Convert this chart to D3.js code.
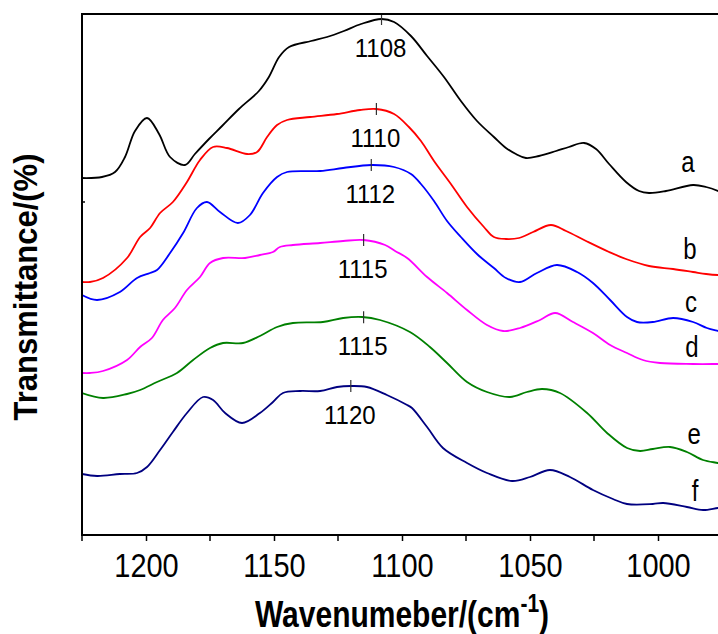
<!DOCTYPE html>
<html>
<head>
<meta charset="utf-8">
<script src="https://cdn.jsdelivr.net/npm/d3@7"></script>
<style>
  body { margin: 0; background: #fff; }
  text { font-family: "Liberation Sans", Arial, sans-serif; fill: #000; }
</style>
</head>
<body>
<svg id="chart" width="718" height="634"></svg>
<script>
// ---- data: wavenumber (cm-1) vs offset transmittance (arbitrary units) ----
const seriesNames = ["a", "b", "c", "d", "e", "f"];
const seriesColors = ["#000000", "#ff0000", "#0000ff", "#ff00ff", "#008000", "#000080"];

const curveA = [
  [1225, 35.7], [1217.2, 35.8], [1212.1, 36.3], [1208.2, 37.8], [1204.3, 40.4], [1199.6, 41.7],
  [1194.9, 40.1], [1190.6, 37.8], [1184.8, 37.0], [1180.9, 38.1], [1175.4, 39.6], [1170.3, 40.9],
  [1163.7, 42.6], [1155.9, 44.4], [1152.0, 45.8], [1148.0, 47.8], [1144.1, 48.8], [1135.5, 49.4],
  [1129.3, 49.8], [1122.7, 50.4], [1116.0, 51.1], [1108, 51.6], [1103.1, 51.3], [1096.5, 49.9],
  [1090.2, 47.9], [1083.6, 45.8], [1077.0, 43.4], [1070.7, 41.4], [1064.1, 39.8], [1059.4, 38.7],
  [1055.5, 38.1], [1051.6, 37.7], [1046.5, 37.9], [1039.8, 38.4], [1034.8, 38.8], [1028.9, 39.2],
  [1024.2, 38.6], [1019.1, 37.1], [1012.5, 35.3], [1007.4, 34.4], [1003.5, 34.2], [996.9, 34.4],
  [986.3, 35.0], [981.2, 34.8], [976.6, 34.4], [975, 34.2]
];
const curveB = [
  [1225, 25.3], [1221.9, 25.3], [1216.8, 25.7], [1207.4, 27.7], [1202.3, 29.8], [1198.4, 30.7],
  [1194.5, 32.2], [1189.5, 33.3], [1184.0, 35.3], [1178.9, 37.5], [1173.8, 38.8], [1168.4, 38.7],
  [1160.5, 38.1], [1156.6, 38.3], [1152.7, 39.8], [1148.8, 41.0], [1144.9, 41.5], [1135.9, 41.8],
  [1125.4, 42.1], [1116.4, 42.5], [1110, 42.6], [1103.1, 42.1], [1097.3, 40.8], [1092.6, 39.4],
  [1087.5, 37.4], [1080.9, 35.1], [1074.6, 32.8], [1068.0, 30.8], [1064.1, 29.8], [1059.4, 29.6],
  [1054.3, 29.7], [1048.8, 30.3], [1041.8, 31.0], [1035.9, 30.4], [1028.1, 29.4], [1019.1, 28.3],
  [1012.5, 27.6], [1003.5, 26.9], [994.1, 26.6], [986.3, 26.3], [981.2, 26.1], [976.6, 26.0], [975, 26.0]
];
const curveC = [
  [1225, 24.0], [1219.1, 23.5], [1210.2, 24.3], [1203.5, 25.7], [1198.4, 26.2], [1195.7, 26.5],
  [1190.6, 28.2], [1185.5, 30.2], [1180.1, 32.7], [1176.2, 33.3], [1171.1, 32.3], [1164.1, 31.2],
  [1159.4, 32.0], [1154.3, 34.2], [1148.8, 35.8], [1144.9, 36.3], [1132.0, 36.4], [1123.0, 36.7],
  [1112, 37.0], [1103.1, 36.8], [1096.5, 36.1], [1092.6, 35.1], [1087.5, 33.4], [1082.4, 31.4],
  [1077.0, 29.8], [1070.7, 28.1], [1064.1, 26.7], [1059.4, 25.7], [1053.9, 25.3], [1047.3, 26.2],
  [1039.5, 27.0], [1031.6, 26.3], [1025.4, 25.2], [1018.7, 23.5], [1012.1, 21.8], [1008.2, 21.3],
  [1002.0, 21.3], [994.1, 21.7], [986.3, 21.3], [980.9, 20.7], [976.6, 20.4], [975, 20.3]
];
const curveD = [
  [1225, 16.2], [1221.9, 16.2], [1216.8, 16.4], [1207.4, 17.5], [1202.3, 18.8], [1197.7, 19.7],
  [1193.4, 21.5], [1188.7, 22.7], [1184.0, 24.5], [1178.9, 25.8], [1175.0, 27.2], [1169.9, 27.7],
  [1161.3, 27.7], [1155.5, 28.0], [1150.4, 28.3], [1147.7, 28.8], [1142.6, 29.0], [1132.0, 29.2],
  [1123.0, 29.4], [1115, 29.5], [1106.6, 29.0], [1102.7, 28.4], [1098.0, 27.7], [1090.2, 25.8],
  [1082.4, 24.2], [1074.6, 22.5], [1066.8, 21.0], [1060.5, 20.4], [1053.9, 20.7], [1046.1, 21.5],
  [1040.2, 22.2], [1033.2, 21.3], [1025.4, 20.2], [1018.7, 19.0], [1012.1, 18.2], [1005.9, 17.5],
  [999.2, 17.2], [986.3, 17.1], [976.6, 17.1], [975, 17.1]
];
const curveE = [
  [1225, 14.2], [1216.8, 13.7], [1207.4, 14.1], [1202.3, 14.5], [1195.7, 15.3], [1187.9, 16.2],
  [1181.6, 17.5], [1175.0, 18.7], [1169.9, 19.2], [1162.1, 19.2], [1155.5, 19.9], [1148.8, 20.8],
  [1142.6, 21.2], [1130.9, 21.3], [1123.0, 21.7], [1115.6, 21.8], [1108.6, 21.5], [1096.9, 20.3],
  [1089.1, 18.8], [1082.4, 17.2], [1074.6, 15.3], [1066.8, 14.3], [1057.8, 13.8], [1051.2, 14.3],
  [1045.3, 14.6], [1038.3, 14.2], [1027.7, 12.2], [1019.9, 10.2], [1012.1, 8.7], [1007.0, 8.4],
  [1002.0, 8.6], [995.3, 8.8], [988.7, 8.3], [982.4, 7.5], [976.6, 7.2], [975, 7.1]
];
const curveF = [
  [1225, 6.1], [1219.1, 5.9], [1210.2, 6.1], [1203.5, 6.2], [1199.6, 6.8], [1194.5, 8.5],
  [1189.5, 10.3], [1184.0, 12.2], [1177.7, 13.8], [1173.8, 13.5], [1169.1, 12.2], [1162.5, 11.2],
  [1155.5, 12.2], [1150.4, 13.3], [1146.5, 14.2], [1139.8, 14.4], [1132.0, 14.4], [1125.4, 14.8],
  [1120, 14.9], [1113.7, 14.8], [1105.9, 14.0], [1098.0, 13.0], [1096.1, 12.7], [1090.2, 10.8],
  [1084.0, 8.7], [1074.6, 7.2], [1066.8, 6.2], [1057.0, 5.4], [1050.0, 5.8], [1042.2, 6.5],
  [1034.4, 5.8], [1025.4, 4.5], [1017.6, 3.6], [1012.1, 3.1], [1002.0, 3.1], [998.0, 3.2],
  [988.7, 2.8], [982.4, 2.5], [976.6, 2.7], [975, 2.7]
];
const allCurves = [curveA, curveB, curveC, curveD, curveE, curveF];

// peak positions marked on each spectrum
const peakWavenumbers = [1108, 1110, 1112, 1115, 1115, 1120];
const peakLabels = ["1108", "1110", "1112", "1115", "1115", "1120"];

const xTicksMajor = [1200, 1150, 1100, 1050, 1000];
const xTicksMinor = [1225, 1175, 1125, 1075, 1025];

// ---- layout ----
const svg = d3.select("#chart");
const mLeft = 82, mRight = 722, mTop = 14, mBottom = 535;

const x = d3.scaleLinear().domain([1225, 975]).range([mLeft, mRight]);
const y = d3.scaleLinear().domain([0, 52.1]).range([mBottom, mTop]);

const line = d3.line()
  .curve(d3.curveCatmullRom.alpha(0.5))
  .x(d => x(d[0]))
  .y(d => y(d[1]));

// clip to plot area
svg.append("clipPath").attr("id", "plotClip")
  .append("rect").attr("x", mLeft).attr("y", mTop).attr("width", mRight - mLeft).attr("height", mBottom - mTop);

const plot = svg.append("g").attr("clip-path", "url(#plotClip)");

allCurves.forEach((c, i) => {
  plot.append("path")
    .datum(c)
    .attr("fill", "none")
    .attr("stroke", seriesColors[i])
    .attr("stroke-width", 1.8)
    .attr("d", line);
});

// text in the source figure is a bit taller than it is wide
function stretchedText(g, px, py, sy) {
  return g.append("text")
    .attr("transform", `translate(${px},${py}) scale(1,${sy})`);
}

// peak markers + labels
function valueAt(curve, w) {
  for (let k = 0; k < curve.length - 1; k++) {
    const a = curve[k], b = curve[k + 1];
    if (w <= a[0] && w >= b[0]) {
      const t = (a[0] - w) / (a[0] - b[0]);
      return a[1] + t * (b[1] - a[1]);
    }
  }
  return curve[0][1];
}

peakWavenumbers.forEach((w, i) => {
  const px = x(w), py = y(valueAt(allCurves[i], w));
  svg.append("line")
    .attr("x1", px).attr("x2", px)
    .attr("y1", py - 6).attr("y2", py + 6)
    .attr("stroke", "#333").attr("stroke-width", 1.2);
  stretchedText(svg, px - 1, py + 38, 1.06)
    .attr("text-anchor", "middle")
    .attr("font-size", 24)
    .text(peakLabels[i]);
});

// series letters near right end
const letterPos = [[988.3, 36.3], [987.5, 27.6], [987.1, 22.3], [986.7, 17.8], [985.9, 9.1], [985.5, 3.4]];
seriesNames.forEach((n, i) => {
  stretchedText(svg, x(letterPos[i][0]), y(letterPos[i][1]), 1.2)
    .attr("text-anchor", "middle")
    .attr("font-size", 24)
    .text(n);
});

// ---- frame and axes ----
const frame = svg.append("g").attr("stroke", "#000").attr("stroke-width", 2).attr("fill", "none");
frame.append("line").attr("x1", mLeft).attr("x2", mLeft).attr("y1", mTop).attr("y2", mBottom + 1);
frame.append("line").attr("x1", mLeft - 1).attr("x2", mRight).attr("y1", mBottom).attr("y2", mBottom);
frame.append("line").attr("x1", mLeft - 1).attr("x2", mRight).attr("y1", mTop).attr("y2", mTop);
frame.append("line").attr("x1", mRight).attr("x2", mRight).attr("y1", mTop).attr("y2", mBottom);

// small tick on the y axis
frame.append("line").attr("x1", mLeft).attr("x2", mLeft + 3).attr("y1", 202).attr("y2", 202).attr("stroke-width", 1.5);

const xAxis = d3.axisBottom(x)
  .tickValues(xTicksMajor)
  .tickSize(6)
  .tickFormat(d3.format("d"));

const gx = svg.append("g").attr("transform", `translate(0,${mBottom})`).call(xAxis);
gx.select(".domain").remove();
gx.selectAll(".tick line").attr("stroke", "#000").attr("stroke-width", 1.5);
gx.selectAll(".tick text")
  .attr("y", 0)
  .attr("dy", 0)
  .attr("transform", "translate(0,42) scale(1,1.12)")
  .attr("font-size", 29)
  .attr("font-family", "'Liberation Sans', Arial, sans-serif")
  .attr("fill", "#000");

svg.append("g").attr("transform", `translate(0,${mBottom})`)
  .selectAll("line").data(xTicksMinor).join("line")
  .attr("x1", d => x(d)).attr("x2", d => x(d))
  .attr("y1", 0).attr("y2", 6)
  .attr("stroke", "#000").attr("stroke-width", 1.5);

// axis titles
const xTitle = stretchedText(svg, 402, 627, 1.22)
  .attr("text-anchor", "middle")
  .attr("font-size", 30)
  .attr("font-weight", "bold");
xTitle.append("tspan").text("Wavenumeber/(cm");
xTitle.append("tspan").attr("dy", -12).attr("font-size", 21).text("-1");
xTitle.append("tspan").attr("dy", 12).text(")");

svg.append("text")
  .attr("transform", "translate(37,287) rotate(-90) scale(1,1.1)")
  .attr("text-anchor", "middle")
  .attr("font-size", 31)
  .attr("font-weight", "bold")
  .text("Transmittance/(%)");
</script>
</body>
</html>
